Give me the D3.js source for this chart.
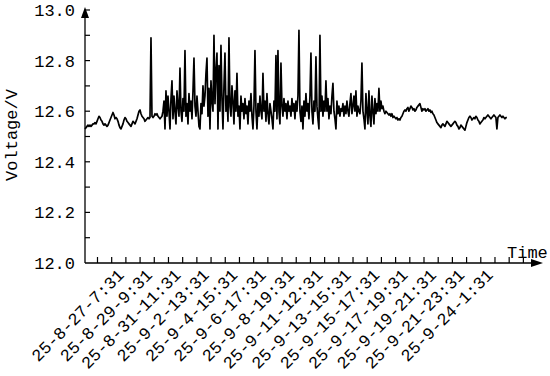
<!DOCTYPE html>
<html>
<head>
<meta charset="utf-8">
<script src="https://cdn.jsdelivr.net/npm/d3@7"></script>
<style>
  body { margin: 0; background: #fff; }
  text { font-family: "Liberation Mono", monospace; fill: #000; }
</style>
</head>
<body>
<svg id="chart" width="550" height="376"></svg>
<script>
// voltage readings (V), evenly spaced in time
var voltage = [
  // quiet start
  12.53, 12.535, 12.54, 12.545, 12.54, 12.545, 12.54, 12.545, 12.55, 12.55,
  12.555, 12.55, 12.56, 12.57, 12.58, 12.575, 12.565, 12.56, 12.55, 12.545,
  12.55, 12.545, 12.54, 12.545, 12.555, 12.565, 12.575, 12.585, 12.595, 12.585,
  12.57, 12.575, 12.57, 12.56, 12.545, 12.535, 12.53, 12.54, 12.55, 12.565,
  12.575, 12.57, 12.56, 12.555, 12.55, 12.545, 12.54, 12.55, 12.56, 12.555,
  12.55, 12.56, 12.57, 12.585, 12.6, 12.605, 12.59, 12.58, 12.575, 12.57,
  12.56, 12.565, 12.57, 12.575, 12.57, 12.575, 12.89, 12.58, 12.575, 12.58,
  12.59, 12.585, 12.59, 12.58, 12.575, 12.57, 12.575, 12.58,
  // noisy middle
  12.6, 12.64, 12.53, 12.68, 12.58, 12.66, 12.6, 12.53, 12.65, 12.72,
  12.57, 12.66, 12.6, 12.55, 12.68, 12.62, 12.58, 12.77, 12.6, 12.56,
  12.65, 12.6, 12.84, 12.58, 12.63, 12.55, 12.67, 12.6, 12.64, 12.57,
  12.68, 12.81, 12.62, 12.58, 12.66, 12.6, 12.54, 12.53, 12.63, 12.59,
  12.7, 12.62, 12.66, 12.75, 12.81, 12.58, 12.69, 12.53, 12.72, 12.64,
  12.6, 12.90, 12.63, 12.76, 12.83, 12.53, 12.78, 12.6, 12.86, 12.65,
  12.53, 12.7, 12.83, 12.6, 12.66, 12.56, 12.89, 12.62, 12.58, 12.7,
  12.64, 12.55, 12.68, 12.6, 12.75, 12.58, 12.62, 12.53, 12.66, 12.6,
  12.63, 12.57, 12.65, 12.59, 12.62, 12.55, 12.64, 12.6, 12.67, 12.58,
  12.53, 12.62, 12.84, 12.6, 12.53, 12.63, 12.58, 12.66, 12.6, 12.57,
  12.75, 12.6, 12.64, 12.56, 12.67, 12.59, 12.55, 12.63, 12.6, 12.57,
  12.53, 12.64, 12.6, 12.82, 12.57, 12.84, 12.6, 12.55, 12.79, 12.62,
  12.58, 12.65, 12.6, 12.63, 12.57, 12.64, 12.6, 12.62, 12.58, 12.65,
  12.6, 12.63, 12.57, 12.64, 12.6, 12.66, 12.92, 12.6, 12.56, 12.62,
  12.53, 12.64, 12.58, 12.67, 12.6, 12.63, 12.57, 12.66, 12.83, 12.6,
  12.55, 12.64, 12.6, 12.815, 12.62, 12.57, 12.53, 12.90, 12.6, 12.66,
  12.58, 12.64, 12.6, 12.72, 12.6, 12.65, 12.57, 12.62, 12.59, 12.66,
  12.71, 12.6, 12.57, 12.53, 12.64, 12.59, 12.62, 12.58, 12.61, 12.6,
  12.63, 12.58, 12.62, 12.59, 12.64, 12.6, 12.58, 12.63, 12.67, 12.59,
  12.62, 12.66, 12.6, 12.68, 12.58, 12.62, 12.6, 12.59, 12.64, 12.79,
  12.6, 12.57, 12.53, 12.67, 12.6, 12.55, 12.68, 12.58, 12.54, 12.66,
  12.6, 12.55, 12.65, 12.59, 12.63, 12.6, 12.69, 12.6, 12.64, 12.61,
  12.62, 12.6,
  // settling
  12.59, 12.6, 12.595, 12.59, 12.585, 12.59, 12.58, 12.59, 12.575, 12.58,
  12.575, 12.57, 12.575, 12.565, 12.57, 12.565, 12.575, 12.58, 12.59, 12.6,
  12.605, 12.6, 12.61, 12.615, 12.6, 12.61, 12.62, 12.615, 12.605, 12.61,
  12.6, 12.605, 12.615, 12.62, 12.625, 12.63, 12.615, 12.6, 12.61, 12.605,
  12.61, 12.6, 12.605, 12.61, 12.6, 12.605, 12.595, 12.6, 12.59, 12.585, 12.575,
  // quiet end
  12.565, 12.555, 12.55, 12.545, 12.54, 12.535, 12.545, 12.55, 12.545, 12.54,
  12.55, 12.56, 12.555, 12.55, 12.545, 12.54, 12.545, 12.55, 12.555, 12.56,
  12.555, 12.545, 12.54, 12.53, 12.535, 12.545, 12.54, 12.535, 12.53, 12.525,
  12.54, 12.555, 12.565, 12.575, 12.58, 12.575, 12.565, 12.57, 12.575, 12.57,
  12.58, 12.575, 12.565, 12.56, 12.55, 12.555, 12.56, 12.565, 12.575, 12.57,
  12.575, 12.58, 12.585, 12.58, 12.575, 12.57, 12.575, 12.58, 12.585, 12.58,
  12.575, 12.53, 12.575, 12.58, 12.585, 12.58, 12.575, 12.58, 12.575, 12.57,
  12.575, 12.575
];

// time labels on every other x tick
var timeLabels = [
  "25-8-27-7:31", "25-8-29-9:31", "25-8-31-11:31", "25-9-2-13:31",
  "25-9-4-15:31", "25-9-6-17:31", "25-9-8-19:31", "25-9-11-12:31",
  "25-9-13-15:31", "25-9-15-17:31", "25-9-17-19:31", "25-9-19-21:31",
  "25-9-21-23:31", "25-9-24-1:31"
];

var yTicks = [12.0, 12.2, 12.4, 12.6, 12.8, 13.0];

var nSamples = 743;   // samples covered by the curve
var firstTick = 22, tickStep = 25;

var svg = d3.select('#chart');
var x0 = 85, y0 = 263;

var x = d3.scaleLinear().domain([0, 796]).range([x0, 537]);
var y = d3.scaleLinear().domain([12, 13]).range([y0, 10]);

var stepX = nSamples / (voltage.length - 1);

// axes lines
svg.append('line')
  .attr('x1', x0).attr('x2', x0).attr('y1', y0).attr('y2', 12)
  .attr('stroke', '#000').attr('stroke-width', 1.3);
svg.append('line')
  .attr('x1', x0).attr('x2', 536).attr('y1', y0).attr('y2', y0)
  .attr('stroke', '#000').attr('stroke-width', 1.3);

// arrows
svg.append('path')
  .attr('d', `M${x0},7 L${x0-4},18 L${x0+4},18 Z`)
  .attr('fill', '#000');
svg.append('path')
  .attr('d', `M543,${y0} L531,${y0-4} L531,${y0+4} Z`)
  .attr('fill', '#000');

// y ticks (major + minor)
var yAll = d3.range(12.1, 13.0, 0.1);
svg.selectAll('.ytick')
  .data(yAll)
  .enter()
  .append('line')
    .attr('x1', x0).attr('x2', x0 + 5)
    .attr('y1', d => y(d)).attr('y2', d => y(d))
    .attr('stroke', '#000').attr('stroke-width', 1.2);

svg.selectAll('.ylab')
  .data(yTicks)
  .enter()
  .append('text')
    .attr('x', x0 - 10)
    .attr('y', d => y(d))
    .attr('dy', '0.35em')
    .attr('text-anchor', 'end')
    .style('font-size', '17px')
    .text(d => d.toFixed(1));

// x ticks
var xTicks = d3.range(0, 31).map(k => firstTick + k * tickStep);
svg.selectAll('.xtick')
  .data(xTicks)
  .enter()
  .append('line')
    .attr('x1', d => x(d)).attr('x2', d => x(d))
    .attr('y1', y0).attr('y2', y0 - 6)
    .attr('stroke', '#000').attr('stroke-width', 1.2);

svg.selectAll('.xlab')
  .data(timeLabels)
  .enter()
  .append('text')
    .attr('transform', (d, i) => {
      var tx = x(firstTick + (2 + 2 * i) * tickStep);
      return `translate(${tx - 1},${y0 + 13}) rotate(-45)`;
    })
    .attr('text-anchor', 'end')
    .style('font-size', '17px')
    .text(d => d);

// axis titles
svg.append('text')
  .attr('transform', 'translate(17,135) rotate(-90)')
  .attr('text-anchor', 'middle')
  .style('font-size', '17px')
  .text('Voltage/V');

svg.append('text')
  .attr('x', 507).attr('y', 258)
  .style('font-size', '17px')
  .text('Time');

// the voltage curve
var line = d3.line()
  .x((d, i) => x(i * stepX))
  .y(d => y(d));

svg.append('path')
  .datum(voltage)
  .attr('d', line)
  .attr('fill', 'none')
  .attr('stroke', '#000')
  .attr('stroke-width', 1.7)
  .attr('stroke-linejoin', 'round');
</script>
</body>
</html>
